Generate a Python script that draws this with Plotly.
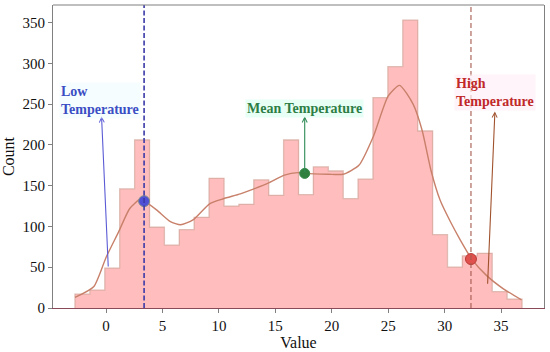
import numpy as np
import plotly.graph_objects as go

# ---------------- data ----------------
bin_start = -2.75
bin_width = 1.32
counts = [17, 22, 49, 146, 206, 99, 77, 96, 111, 159, 125, 127, 157, 138, 206,
          139, 173, 168, 134, 158, 258, 296, 353, 217, 90, 50, 64, 67, 20, 11]

kde_x = [-2.75, -1.1, 0.0, 1.1, 2.1, 3.0, 3.4, 4.5, 5.7, 6.6, 7.7, 9.2, 10.4, 11.9,
         13.1, 14.5, 15.8, 17.0, 17.6, 19.7, 21.0, 22.4, 23.7, 25.0, 26.0, 27.2,
         28.0, 28.8, 29.6, 30.5, 31.4, 32.4, 33.7, 35.2, 36.8]
kde_y = [13, 26, 62, 93, 122, 133, 131, 120, 106, 102, 108, 128, 134, 140,
         146, 154, 163, 166, 165, 164, 164, 175, 211, 260, 273, 250,
         218, 168, 132, 106, 83, 60, 40, 23.5, 10]

low_temp, low_y = 3.37, 131
mean_temp, mean_y = 17.6, 165
high_temp, high_y = 32.33, 60

x_ticks = [0, 5, 10, 15, 20, 25, 30, 35]
y_ticks = [0, 50, 100, 150, 200, 250, 300, 350]

# ---------------- figure ----------------
n = len(counts)
edges = bin_start + bin_width * np.arange(n + 1)
centers = (edges[:-1] + edges[1:]) / 2

FONT = "'Liberation Serif', 'Times New Roman', 'DejaVu Serif', serif"
fig = go.Figure()

fig.add_trace(go.Bar(x=centers, y=counts, width=bin_width,
                     marker=dict(color="#ffbdbd", line=dict(width=0)),
                     hoverinfo="skip", showlegend=False))

# outline of histogram (top edge)
sx = [edges[0]] + list(edges[:-1]) + [edges[-1], edges[-1]]
sy = [0] + list(counts) + [counts[-1], 0]
fig.add_trace(go.Scatter(x=sx, y=sy, mode="lines", line=dict(shape="hv", color="rgba(215,170,160,0.8)", width=1.3),
                         hoverinfo="skip", showlegend=False))

fig.add_trace(go.Scatter(x=kde_x, y=kde_y, mode="lines",
                         line=dict(shape="spline", smoothing=0.6, color="#c8806a", width=1.4),
                         hoverinfo="skip", showlegend=False))

fig.add_shape(type="line", xref="x", yref="paper", x0=low_temp, x1=low_temp, y0=0, y1=1,
              line=dict(color="#3a3aa8", width=1.6, dash="5px,2.5px"))
fig.add_shape(type="line", xref="x", yref="paper", x0=high_temp, x1=high_temp, y0=0, y1=1,
              line=dict(color="#a85a50", width=1.1, dash="5px,3px"))

# top spine
fig.add_shape(type="line", xref="paper", yref="paper", x0=0, x1=1, y0=1, y1=1,
              line=dict(color="#808080", width=1.2))

fig.add_trace(go.Scatter(x=[low_temp], y=[low_y], mode="markers",
                         marker=dict(size=11, color="#5050d6", line=dict(color="#7c8f8a", width=1)),
                         hoverinfo="skip", showlegend=False))
fig.add_trace(go.Scatter(x=[mean_temp], y=[mean_y], mode="markers",
                         marker=dict(size=10, color="#2f7f3f", line=dict(color="#3a8a4a", width=1)),
                         hoverinfo="skip", showlegend=False))
fig.add_trace(go.Scatter(x=[high_temp], y=[high_y], mode="markers",
                         marker=dict(size=11, color="#e0504c", line=dict(color="#b83a36", width=1)),
                         hoverinfo="skip", showlegend=False))

# arrows
arrows = [
    (-0.4, 235, 0.2, 49, "#5b5bd6"),
    (mean_temp, 235, mean_temp, mean_y, "#2e8b57"),
    (34.45, 241, 33.8, 28, "#a0522d"),
]
for hx, hy, tx, ty, c in arrows:
    fig.add_annotation(x=hx, y=hy, ax=tx, ay=ty, xref="x", yref="y", axref="x", ayref="y",
                       text="", showarrow=True, arrowhead=5, arrowsize=0.9, arrowwidth=1.1,
                       arrowcolor=c, standoff=0, startstandoff=0)

# labels
fig.add_annotation(x=-4.2, y=255, xref="x", yref="y", text="<b>Low<br>Temperature</b>",
                   showarrow=False, xanchor="left", yanchor="middle", align="left",
                   font=dict(family=FONT, size=14, color="#3a4ec4"), bgcolor="rgba(240,252,255,0.6)")
fig.add_annotation(x=mean_temp, y=245, xref="x", yref="y", text="<b>Mean Temperature</b>",
                   showarrow=False, xanchor="center", yanchor="middle",
                   font=dict(family=FONT, size=14, color="#2e7d45"), bgcolor="rgba(225,255,243,0.8)")
fig.add_annotation(x=30.8, y=264, xref="x", yref="y", text="<b>High<br>Temperature</b>",
                   showarrow=False, xanchor="left", yanchor="middle", align="left",
                   font=dict(family=FONT, size=14, color="#c0282a"), bgcolor="rgba(255,240,246,0.7)")

fig.update_layout(
    width=550, height=352,
    margin=dict(l=53, r=6, t=5, b=42),
    plot_bgcolor="white", paper_bgcolor="white",
    font=dict(family=FONT, size=15, color="#111"),
    bargap=0, showlegend=False,
)
fig.update_xaxes(range=[-4.7, 38.8], tickvals=x_ticks, ticktext=[str(v) for v in x_ticks],
                 showgrid=False, zeroline=False, showline=True, linecolor="#8a4a5a", linewidth=1.3,
                 ticks="outside", ticklen=4, tickcolor="#808080",
                 title=dict(text="Value", font=dict(size=16), standoff=2))
fig.update_yaxes(range=[0, 371.5], tickvals=y_ticks, ticktext=[str(v) for v in y_ticks],
                 showgrid=False, zeroline=False, showline=True, linecolor="#808080", linewidth=1.2,
                 mirror=True, ticks="outside", ticklen=4, tickcolor="#808080",
                 title=dict(text="Count", font=dict(size=16), standoff=6))

fig.write_html("out.html", config={"displayModeBar": False},
               post_script="document.body.style.margin='0';document.body.style.padding='0';document.body.style.overflow='hidden';")
